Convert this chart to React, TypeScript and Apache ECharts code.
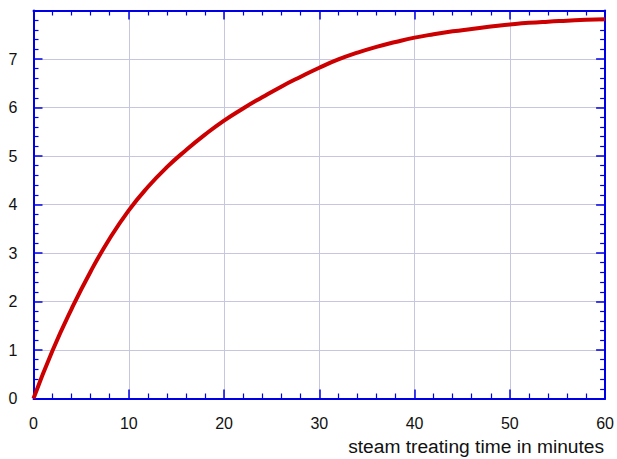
import React, { useEffect, useRef } from "react";
import * as echarts from "echarts";

const timeMinutes = [0, 2, 4, 6, 8, 10, 12, 14, 16, 18, 20, 22, 24, 26, 28, 30, 32, 34, 36, 38, 40, 42, 44, 46, 48, 50, 52, 54, 56, 58, 60];
const values = [0, 0.99, 1.85, 2.62, 3.3, 3.88, 4.36, 4.77, 5.12, 5.44, 5.73, 5.98, 6.21, 6.43, 6.63, 6.82, 6.99, 7.13, 7.25, 7.35, 7.44, 7.51, 7.57, 7.62, 7.67, 7.71, 7.745, 7.77, 7.79, 7.81, 7.82];
const xAxisTitle = "steam treating time in minutes";

const AXIS_BLUE = "#0000e6";
const GRID_COLOR = "#c6c6de";
const FONT = "Liberation Sans, Arial, sans-serif";

export default function App() {
  const ref = useRef<HTMLDivElement>(null);
  useEffect(() => {
    if (!ref.current) return;
    const chart = echarts.init(ref.current, null, { renderer: "svg" });
    const axisLine = { show: true, onZero: false, lineStyle: { color: AXIS_BLUE, width: 2 } };
    const axisTick = { show: true, inside: true, length: 9, lineStyle: { color: AXIS_BLUE, width: 1.5 } };
    const minorTick = { show: true, splitNumber: 5, length: 5, lineStyle: { color: AXIS_BLUE, width: 1.2 } };
    chart.setOption({
      animation: false,
      backgroundColor: "#ffffff",
      grid: { left: 33.5, right: 10.5, top: 10.5, bottom: 60.5, containLabel: false },
      xAxis: [
        {
          type: "value",
          position: "bottom",
          min: 0,
          max: 60,
          interval: 10,
          axisLine,
          axisTick,
          minorTick,
          splitLine: { show: true, lineStyle: { color: GRID_COLOR, width: 1 } },
          axisLabel: { fontSize: 16, color: "#111", margin: 17, fontFamily: FONT },
          name: xAxisTitle,
          nameLocation: "end",
          nameGap: -1,
          nameTextStyle: {
            fontSize: 19.2,
            color: "#111",
            fontFamily: FONT,
            align: "right",
            verticalAlign: "top",
            padding: [38, 0, 0, 0],
          },
        },
        {
          type: "value",
          position: "top",
          min: 0,
          max: 60,
          interval: 10,
          axisLine,
          axisTick,
          minorTick,
          splitLine: { show: false },
          axisLabel: { show: false },
        },
      ],
      yAxis: [
        {
          type: "value",
          position: "left",
          min: 0,
          max: 8,
          interval: 1,
          axisLine,
          axisTick,
          minorTick,
          splitLine: { show: true, lineStyle: { color: GRID_COLOR, width: 1 } },
          axisLabel: {
            fontSize: 16,
            color: "#111",
            margin: 16,
            fontFamily: FONT,
            formatter: (v: number) => (v === 8 ? "" : String(v)),
          },
        },
        {
          type: "value",
          position: "right",
          min: 0,
          max: 8,
          interval: 1,
          axisLine,
          axisTick,
          minorTick,
          splitLine: { show: false },
          axisLabel: { show: false },
        },
      ],
      series: [
        {
          type: "line",
          xAxisIndex: 0,
          yAxisIndex: 0,
          data: timeMinutes.map((t, i) => [t, values[i]]),
          smooth: true,
          showSymbol: false,
          lineStyle: { color: "#cc0000", width: 4 },
          z: 5,
        },
      ],
    });
    return () => chart.dispose();
  }, []);
  return <div ref={ref} style={{ width: 617, height: 459, position: "absolute", left: 0, top: 0 }} />;
}
